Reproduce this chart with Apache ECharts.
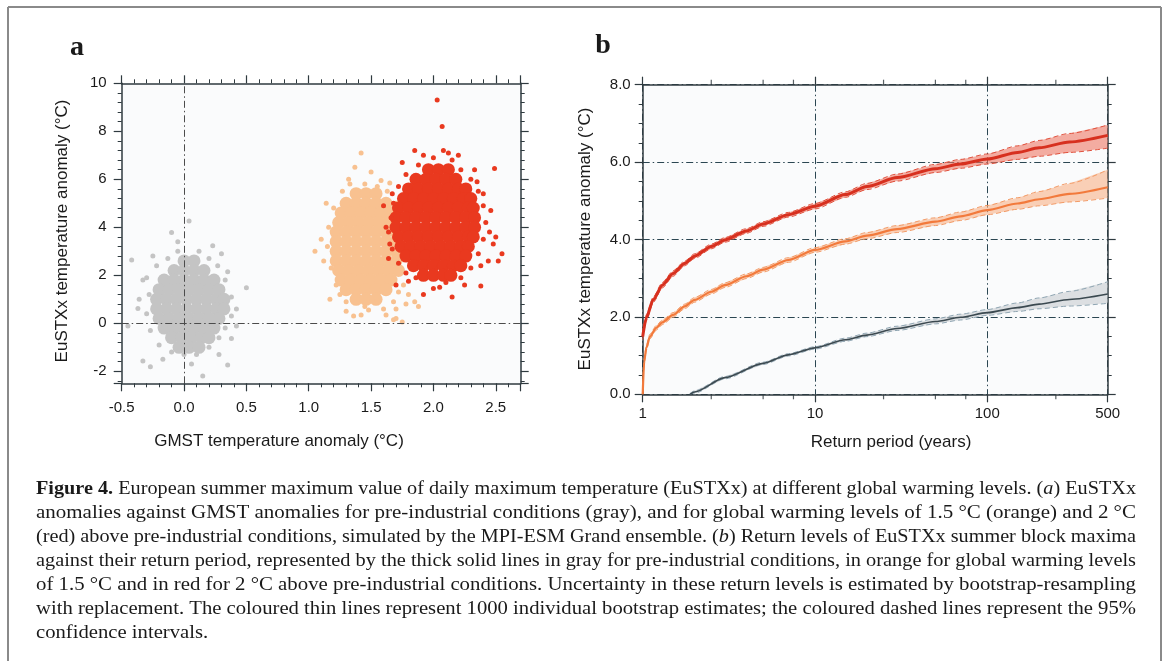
<!DOCTYPE html>
<html>
<head>
<meta charset="utf-8">
<title>Figure 4 - EuSTXx</title>
<script src="https://cdn.jsdelivr.net/npm/echarts@6/dist/echarts.min.js"></script>
<style>
  html, body { margin: 0; padding: 0; background: #fff; }
  #chart { width: 1167px; height: 661px; }
</style>
</head>
<body>
<div id="chart"></div>
<script>
'use strict'

// panel a: GMST anomaly vs EuSTXx anomaly, dense core + loose points per cloud
var grayDense = [
  [0.0, 2.6], [0.08, 2.6],
  [-0.08, 2.2], [0.0, 2.2], [0.08, 2.2], [0.16, 2.2],
  [-0.16, 1.8], [-0.08, 1.8], [0.0, 1.8], [0.08, 1.8], [0.16, 1.8], [0.24, 1.8],
  [-0.2, 1.4], [-0.12, 1.4], [-0.04, 1.4], [0.04, 1.4], [0.12, 1.4], [0.2, 1.4], [0.28, 1.4],
  [-0.22, 1.0], [-0.14, 1.0], [-0.06, 1.0], [0.02, 1.0], [0.1, 1.0], [0.18, 1.0], [0.26, 1.0], [0.32, 1.0],
  [-0.22, 0.6], [-0.14, 0.6], [-0.06, 0.6], [0.02, 0.6], [0.1, 0.6], [0.18, 0.6], [0.26, 0.6], [0.32, 0.6],
  [-0.2, 0.2], [-0.12, 0.2], [-0.04, 0.2], [0.04, 0.2], [0.12, 0.2], [0.2, 0.2], [0.28, 0.2],
  [-0.16, -0.2], [-0.08, -0.2], [0.0, -0.2], [0.08, -0.2], [0.16, -0.2], [0.24, -0.2],
  [-0.1, -0.6], [-0.02, -0.6], [0.06, -0.6], [0.14, -0.6], [0.2, -0.6],
  [-0.04, -1.0], [0.04, -1.0], [0.12, -1.0]
]
var grayLoose = [
  [-0.3, 1.9], [-0.28, 1.2], [-0.3, 0.4], [-0.27, -0.3], [-0.2, -0.9], [-0.1, -1.2], [0.0, -1.3],
  [0.1, -1.3], [0.2, -1.0], [0.28, -0.6], [0.33, -0.2], [0.38, 0.3], [0.38, 1.1], [0.33, 1.8],
  [0.27, 2.4], [0.2, 2.7], [0.12, 3.0], [-0.05, 3.0], [-0.13, 2.7], [-0.22, 2.4], [-0.25, 2.8],
  [0.3, 2.9], [-0.36, 1.0], [0.42, 0.6],
  [-0.42, 2.64], [-0.1, 3.78], [0.04, 4.26], [0.23, 3.23], [0.5, 1.48], [-0.33, -1.57], [-0.27, -1.81],
  [0.15, -2.2], [0.35, -1.74], [-0.45, -0.11], [0.42, -0.11], [0.38, -0.63], [0.35, 2.15],
  [-0.37, 0.62], [-0.33, 1.8], [-0.17, -1.5], [0.28, -1.3], [0.06, -1.7], [-0.05, 3.4]
]
var orangeDense = [
  [1.38, 5.4], [1.46, 5.4], [1.54, 5.4],
  [1.3, 5.0], [1.38, 5.0], [1.46, 5.0], [1.54, 5.0], [1.62, 5.0],
  [1.26, 4.6], [1.34, 4.6], [1.42, 4.6], [1.5, 4.6], [1.58, 4.6], [1.66, 4.6],
  [1.24, 4.2], [1.32, 4.2], [1.4, 4.2], [1.48, 4.2], [1.56, 4.2], [1.64, 4.2],
  [1.22, 3.8], [1.3, 3.8], [1.38, 3.8], [1.46, 3.8], [1.54, 3.8], [1.62, 3.8], [1.7, 3.8],
  [1.22, 3.4], [1.3, 3.4], [1.38, 3.4], [1.46, 3.4], [1.54, 3.4], [1.62, 3.4], [1.7, 3.4],
  [1.22, 3.0], [1.3, 3.0], [1.38, 3.0], [1.46, 3.0], [1.54, 3.0], [1.62, 3.0], [1.7, 3.0],
  [1.22, 2.6], [1.3, 2.6], [1.38, 2.6], [1.46, 2.6], [1.54, 2.6], [1.62, 2.6], [1.7, 2.6],
  [1.24, 2.2], [1.32, 2.2], [1.4, 2.2], [1.48, 2.2], [1.56, 2.2], [1.64, 2.2], [1.72, 2.2],
  [1.26, 1.8], [1.34, 1.8], [1.42, 1.8], [1.5, 1.8], [1.58, 1.8], [1.66, 1.8],
  [1.3, 1.4], [1.38, 1.4], [1.46, 1.4], [1.54, 1.4], [1.62, 1.4],
  [1.38, 1.0], [1.46, 1.0], [1.54, 1.0]
]
var orangeLoose = [
  [1.15, 3.2], [1.16, 4.0], [1.18, 2.3], [1.2, 4.8], [1.22, 1.6], [1.27, 5.5], [1.33, 5.8],
  [1.45, 5.8], [1.55, 5.7], [1.63, 5.5], [1.7, 5.0], [1.72, 1.3], [1.68, 0.9], [1.6, 0.6],
  [1.45, 0.7], [1.3, 0.9], [1.25, 1.2], [1.76, 1.6], [1.8, 1.2], [1.78, 0.8],
  [1.05, 3.0], [1.1, 3.5], [1.14, 5.0], [1.17, 1.0], [1.32, 6.0], [1.37, 6.5], [1.42, 7.1],
  [1.58, 5.95], [1.65, 5.85], [1.3, 0.5], [1.42, 0.35], [1.62, 0.35], [1.7, 0.2], [1.75, 0.05],
  [1.12, 2.6], [1.5, 6.3], [1.48, 0.55], [1.7, 0.6], [1.55, 0.95], [1.36, 0.3], [1.85, 0.9],
  [1.88, 0.7], [1.68, 0.15]
]
var redDense = [
  [1.96, 6.4], [2.04, 6.4], [2.12, 6.4],
  [1.86, 6.0], [1.94, 6.0], [2.02, 6.0], [2.1, 6.0], [2.18, 6.0],
  [1.8, 5.6], [1.88, 5.6], [1.96, 5.6], [2.04, 5.6], [2.12, 5.6], [2.2, 5.6], [2.26, 5.6],
  [1.76, 5.2], [1.84, 5.2], [1.92, 5.2], [2.0, 5.2], [2.08, 5.2], [2.16, 5.2], [2.24, 5.2], [2.3, 5.2],
  [1.72, 4.8], [1.8, 4.8], [1.88, 4.8], [1.96, 4.8], [2.04, 4.8], [2.12, 4.8], [2.2, 4.8], [2.28, 4.8], [2.32, 4.8],
  [1.7, 4.4], [1.78, 4.4], [1.86, 4.4], [1.94, 4.4], [2.02, 4.4], [2.1, 4.4], [2.18, 4.4], [2.26, 4.4], [2.33, 4.4],
  [1.7, 4.0], [1.78, 4.0], [1.86, 4.0], [1.94, 4.0], [2.02, 4.0], [2.1, 4.0], [2.18, 4.0], [2.26, 4.0], [2.33, 4.0],
  [1.72, 3.6], [1.8, 3.6], [1.88, 3.6], [1.96, 3.6], [2.04, 3.6], [2.12, 3.6], [2.2, 3.6], [2.28, 3.6], [2.32, 3.6],
  [1.74, 3.2], [1.82, 3.2], [1.9, 3.2], [1.98, 3.2], [2.06, 3.2], [2.14, 3.2], [2.22, 3.2], [2.28, 3.2],
  [1.78, 2.8], [1.86, 2.8], [1.94, 2.8], [2.02, 2.8], [2.1, 2.8], [2.18, 2.8], [2.26, 2.8],
  [1.84, 2.4], [1.92, 2.4], [2.0, 2.4], [2.08, 2.4], [2.16, 2.4], [2.22, 2.4],
  [1.92, 2.0], [2.0, 2.0], [2.08, 2.0], [2.14, 2.0]
]
var redLoose = [
  [1.68, 5.0], [1.66, 4.4], [1.64, 3.8], [1.67, 3.1], [1.72, 2.5], [1.78, 2.1], [1.86, 1.9],
  [2.1, 1.7], [2.22, 1.9], [2.3, 2.3], [2.36, 2.9], [2.4, 3.5], [2.42, 4.2], [2.4, 4.9],
  [2.36, 5.5], [2.3, 6.0], [2.22, 6.4], [2.15, 6.8], [2.0, 6.9], [1.88, 6.6], [1.78, 6.2],
  [1.72, 5.7], [2.45, 3.8], [2.38, 2.4], [2.05, 1.5],
  [2.03, 9.3], [2.07, 8.2], [1.85, 7.2], [2.08, 7.2], [2.49, 6.45], [2.5, 3.6], [2.55, 2.9],
  [2.38, 1.55], [2.15, 1.1], [1.92, 1.2], [1.7, 1.6], [1.6, 4.9], [1.62, 4.0], [1.65, 3.3],
  [2.4, 5.4], [2.46, 4.7], [2.35, 5.9], [1.75, 6.7], [2.2, 7.0], [2.44, 2.6], [2.0, 1.45],
  [2.25, 1.6], [1.8, 1.75], [1.67, 5.4], [2.48, 3.3], [2.12, 7.1], [1.92, 7.0], [2.33, 6.4],
  [1.64, 2.7], [2.52, 2.6]
]

// panel b: return levels (years, degC) with 95% bounds
var redPeriods = [1, 1.05, 1.15, 1.3, 1.5, 1.75, 2, 2.5, 3, 4, 5, 7, 10, 15, 20, 30, 50, 70, 100, 150, 200, 300, 500]
var redLevel = [1.49, 1.98, 2.44, 2.82, 3.12, 3.38, 3.57, 3.82, 3.99, 4.22, 4.40, 4.64, 4.86, 5.16, 5.37, 5.60, 5.83, 5.95, 6.08, 6.25, 6.37, 6.52, 6.69]
var redLower = [1.41, 1.90, 2.37, 2.75, 3.05, 3.32, 3.51, 3.76, 3.93, 4.16, 4.34, 4.58, 4.79, 5.09, 5.29, 5.51, 5.73, 5.84, 5.95, 6.07, 6.15, 6.25, 6.36]
var redUpper = [1.57, 2.06, 2.51, 2.89, 3.19, 3.44, 3.63, 3.88, 4.05, 4.28, 4.46, 4.70, 4.93, 5.23, 5.45, 5.69, 5.94, 6.07, 6.21, 6.42, 6.56, 6.74, 6.96]

var orangePeriods = [1, 1.02, 1.05, 1.1, 1.2, 1.3, 1.5, 1.75, 2, 2.5, 3, 4, 5, 7, 10, 15, 20, 30, 50, 70, 100, 150, 200, 300, 500]
var orangeLevel = [0, 0.85, 1.2, 1.49, 1.72, 1.86, 2.05, 2.27, 2.44, 2.65, 2.82, 3.05, 3.22, 3.47, 3.73, 3.95, 4.10, 4.27, 4.46, 4.60, 4.76, 4.93, 5.04, 5.18, 5.35]
var orangeLower = [0, 0.78, 1.13, 1.43, 1.66, 1.80, 1.99, 2.21, 2.38, 2.59, 2.76, 2.99, 3.16, 3.41, 3.67, 3.88, 4.02, 4.18, 4.36, 4.49, 4.64, 4.78, 4.87, 4.97, 5.07]
var orangeUpper = [0.06, 0.92, 1.27, 1.55, 1.78, 1.92, 2.11, 2.33, 2.50, 2.71, 2.88, 3.11, 3.28, 3.53, 3.79, 4.02, 4.18, 4.36, 4.56, 4.71, 4.88, 5.08, 5.24, 5.45, 5.80]

var grayPeriods = [1.88, 2, 3, 5, 7, 10, 15, 20, 30, 50, 70, 100, 150, 200, 300, 500]
var grayLevel = [0, 0.06, 0.43, 0.80, 1.02, 1.20, 1.41, 1.53, 1.70, 1.88, 1.99, 2.11, 2.24, 2.33, 2.45, 2.59]
var grayLower = [0, 0.03, 0.40, 0.77, 0.99, 1.17, 1.37, 1.49, 1.65, 1.82, 1.92, 2.04, 2.14, 2.21, 2.28, 2.35]
var grayUpper = [0.02, 0.09, 0.46, 0.83, 1.05, 1.23, 1.45, 1.58, 1.76, 1.95, 2.07, 2.19, 2.36, 2.49, 2.66, 2.91]

var logMinorTicks = [2.5, 5, 7.5, 25, 50, 75, 250]

var captionLines = [
  '{b|Figure 4.} European summer maximum value of daily maximum temperature (EuSTXx) at different global warming levels. ({i|a}) EuSTXx',
  'anomalies against GMST anomalies for pre-industrial conditions (gray), and for global warming levels of 1.5 °C (orange) and 2 °C',
  '(red) above pre-industrial conditions, simulated by the MPI-ESM Grand ensemble. ({i|b}) Return levels of EuSTXx summer block maxima',
  'against their return period, represented by the thick solid lines in gray for pre-industrial conditions, in orange for global warming levels',
  'of 1.5 °C and in red for 2 °C above pre-industrial conditions. Uncertainty in these return levels is estimated by bootstrap-resampling',
  'with replacement. The coloured thin lines represent 1000 individual bootstrap estimates; the coloured dashed lines represent the 95%',
  'confidence intervals.'
]

var SANS = '"Liberation Sans", Arial, sans-serif'
var SERIF = '"Liberation Serif", "Times New Roman", serif'
var AXIS = '#2f3a3f'
var DASHDOT = [7, 3, 1.5, 3]

function pairs (xs, ys) {
  return xs.map(function (x, i) { return [x, ys[i]] })
}

// caption: measure each line and stretch it to the justified width
var measureCtx = document.createElement('canvas').getContext('2d')
var CAPTION_SIZE = 19
var CAPTION_WIDTH = 1100
function measureLine (line) {
  var total = 0
  line.replace(/\{(\w)\|([^}]*)\}|([^{]+)/g, function (m, tag, inner, plain) {
    if (tag) {
      measureCtx.font = (tag === 'b' ? 'bold ' : 'italic ') + CAPTION_SIZE + 'px ' + SERIF
      total += measureCtx.measureText(inner).width
    } else {
      measureCtx.font = CAPTION_SIZE + 'px ' + SERIF
      total += measureCtx.measureText(plain).width
    }
    return m
  })
  return total
}

function captionGraphics () {
  var lastScale = 1
  return captionLines.map(function (line, i) {
    var w = measureLine(line)
    var s = i < captionLines.length - 1 ? CAPTION_WIDTH / w : lastScale
    lastScale = s
    return {
      type: 'text',
      x: 36,
      y: 489 + i * 24,
      scaleX: s,
      silent: true,
      style: {
        text: line,
        fontFamily: SERIF,
        fontSize: CAPTION_SIZE,
        fill: '#1a1a1a',
        verticalAlign: 'middle',
        rich: {
          b: { fontFamily: SERIF, fontSize: CAPTION_SIZE, fontWeight: 'bold', fill: '#1a1a1a' },
          i: { fontFamily: SERIF, fontSize: CAPTION_SIZE, fontStyle: 'italic', fill: '#1a1a1a' }
        }
      }
    }
  })
}

function label (text, x, y, opts) {
  opts = opts || {}
  return {
    type: 'text',
    x: x,
    y: y,
    rotation: opts.rotation || 0,
    silent: true,
    style: {
      text: text,
      fontFamily: opts.family || SANS,
      fontSize: opts.size || 17,
      fontWeight: opts.weight || 'normal',
      fill: '#1a1a1a',
      align: 'center',
      verticalAlign: 'middle'
    }
  }
}

function axisBase (extra) {
  var base = {
    axisLine: { show: true, onZero: false, lineStyle: { color: AXIS, width: 1.5 } },
    axisTick: { show: true, inside: false, length: 8, lineStyle: { color: AXIS, width: 1.2 } },
    minorTick: { show: true, length: 4, lineStyle: { color: AXIS, width: 1 } },
    splitLine: { show: false },
    axisLabel: { show: false, fontFamily: SANS, fontSize: 15, color: '#1a1a1a' }
  }
  return Object.assign(base, extra)
}

// shaded 95% band as one polygon placed through the axes
function bandSeries (xs, lo, hi, fill) {
  return {
    type: 'custom',
    xAxisIndex: 2,
    yAxisIndex: 2,
    data: xs.map(function (x, i) { return [x, lo[i], hi[i]] }),
    encode: { x: 0, y: [1, 2] },
    clip: true,
    silent: true,
    z: 2,
    renderItem: function (params, api) {
      if (params.dataIndex !== 0) return null
      var top = xs.map(function (x, i) { return api.coord([x, hi[i]]) })
      var bottom = xs.map(function (x, i) { return api.coord([x, lo[i]]) }).reverse()
      return {
        type: 'polygon',
        shape: { points: top.concat(bottom) },
        style: { fill: fill }
      }
    }
  }
}

function lineSeries (xs, ys, color, width, dashed, z) {
  return {
    type: 'line',
    xAxisIndex: 2,
    yAxisIndex: 2,
    data: pairs(xs, ys),
    smooth: 0.25,
    smoothMonotone: 'x',
    symbol: 'none',
    silent: true,
    z: z,
    lineStyle: { color: color, width: width, type: dashed ? [5, 3] : 'solid' }
  }
}

function tickSeries (y, offset) {
  return {
    type: 'scatter',
    xAxisIndex: 2,
    yAxisIndex: 2,
    data: logMinorTicks.map(function (p) { return [p, y] }),
    symbol: 'rect',
    symbolSize: [1.2, 5],
    symbolOffset: [0, offset],
    clip: false,
    silent: true,
    z: 6,
    itemStyle: { color: AXIS }
  }
}

function scatterSeries (data, color, size) {
  return {
    type: 'scatter',
    xAxisIndex: 0,
    yAxisIndex: 0,
    data: data,
    symbolSize: size,
    silent: true,
    itemStyle: { color: color, opacity: 1 }
  }
}

var chart = echarts.init(document.getElementById('chart'), null, { renderer: 'canvas' })

var zeroLines = scatterSeries(redLoose, '#e9391f', 5)
zeroLines.markLine = {
  silent: true,
  symbol: 'none',
  animation: false,
  label: { show: false },
  lineStyle: { color: '#4b4b4b', width: 1, type: DASHDOT },
  data: [{ xAxis: 0 }, { yAxis: 0 }]
}

var halfStep = function (v) {
  return Math.abs(v * 2 - Math.round(v * 2)) < 1e-6 ? v.toFixed(1) : ''
}

chart.setOption({
  animation: false,
  backgroundColor: '#ffffff',
  grid: [
    { left: 121.7, top: 83.3, width: 399, height: 300, show: true, backgroundColor: '#fafbfc', borderWidth: 0 },
    { left: 642.7, top: 84.7, width: 465, height: 309.6, show: true, backgroundColor: '#fafbfc', borderWidth: 0 }
  ],
  xAxis: [
    axisBase({
      type: 'value', gridIndex: 0, position: 'bottom', min: -0.5, max: 2.7, interval: 0.5,
      minorTick: { show: true, splitNumber: 5, length: 4, lineStyle: { color: AXIS, width: 1 } },
      axisLabel: { show: true, margin: 17, fontFamily: SANS, fontSize: 15, color: '#1a1a1a', formatter: halfStep }
    }),
    axisBase({
      type: 'value', gridIndex: 0, position: 'top', min: -0.5, max: 2.7, interval: 0.5,
      minorTick: { show: true, splitNumber: 5, length: 4, lineStyle: { color: AXIS, width: 1 } }
    }),
    axisBase({
      type: 'log', logBase: 10, gridIndex: 1, position: 'bottom', min: 1, max: 500,
      minorTick: { show: false },
      splitLine: { show: true, lineStyle: { color: '#2b4652', width: 1, type: DASHDOT } },
      axisLabel: { show: true, margin: 12, fontFamily: SANS, fontSize: 15, color: '#1a1a1a', showMaxLabel: true, showMinLabel: true }
    }),
    axisBase({
      type: 'log', logBase: 10, gridIndex: 1, position: 'top', min: 1, max: 500,
      minorTick: { show: false }
    })
  ],
  yAxis: [
    axisBase({
      type: 'value', gridIndex: 0, position: 'left', min: -2.5, max: 10, splitNumber: 6,
      minorTick: { show: true, splitNumber: 5, length: 4, lineStyle: { color: AXIS, width: 1 } },
      axisLabel: {
        show: true, margin: 15, fontFamily: SANS, fontSize: 15, color: '#1a1a1a',
        formatter: function (v) { return Math.abs(v % 2) < 1e-6 ? String(v) : '' }
      }
    }),
    axisBase({
      type: 'value', gridIndex: 0, position: 'right', min: -2.5, max: 10, splitNumber: 6,
      minorTick: { show: true, splitNumber: 5, length: 4, lineStyle: { color: AXIS, width: 1 } }
    }),
    axisBase({
      type: 'value', gridIndex: 1, position: 'left', min: 0, max: 8, interval: 2,
      minorTick: { show: true, splitNumber: 4, length: 4, lineStyle: { color: AXIS, width: 1 } },
      splitLine: { show: true, lineStyle: { color: '#2b4652', width: 1, type: DASHDOT } },
      axisLabel: {
        show: true, margin: 12, fontFamily: SANS, fontSize: 15, color: '#1a1a1a',
        formatter: function (v) { return v.toFixed(1) }
      }
    }),
    axisBase({
      type: 'value', gridIndex: 1, position: 'right', min: 0, max: 8, interval: 2,
      minorTick: { show: true, splitNumber: 4, length: 4, lineStyle: { color: AXIS, width: 1 } }
    })
  ],
  series: [
    scatterSeries(grayDense, '#c4c4c4', 13),
    scatterSeries(grayLoose, '#c4c4c4', 5),
    scatterSeries(orangeDense, '#f8c190', 13),
    scatterSeries(orangeLoose, '#f8c190', 5),
    scatterSeries(redDense, '#e9391f', 13),
    zeroLines,
    bandSeries(grayPeriods, grayLower, grayUpper, 'rgba(200,205,208,0.6)'),
    bandSeries(orangePeriods, orangeLower, orangeUpper, 'rgba(248,178,135,0.6)'),
    bandSeries(redPeriods, redLower, redUpper, 'rgba(238,120,100,0.6)'),
    lineSeries(grayPeriods, grayLower, '#8fa5b2', 1, true, 3),
    lineSeries(grayPeriods, grayUpper, '#8fa5b2', 1, true, 3),
    lineSeries(orangePeriods, orangeLower, '#f29a66', 1, true, 3),
    lineSeries(orangePeriods, orangeUpper, '#f29a66', 1, true, 3),
    lineSeries(redPeriods, redLower, '#e0503c', 1, true, 3),
    lineSeries(redPeriods, redUpper, '#e0503c', 1, true, 3),
    lineSeries(grayPeriods, grayLevel, '#3b4950', 1.6, false, 4),
    lineSeries(orangePeriods, orangeLevel, '#f27a3c', 2.2, false, 4),
    lineSeries(redPeriods, redLevel, '#d7301f', 3, false, 4),
    tickSeries(0, 2.5),
    tickSeries(8, -2.5)
  ],
  graphic: [
    { type: 'line', silent: true, shape: { x1: 8, y1: 7, x2: 1161, y2: 7 }, style: { stroke: '#8a8a8a', lineWidth: 2 } },
    { type: 'line', silent: true, shape: { x1: 8, y1: 7, x2: 8, y2: 661 }, style: { stroke: '#8a8a8a', lineWidth: 2 } },
    { type: 'line', silent: true, shape: { x1: 1161, y1: 7, x2: 1161, y2: 661 }, style: { stroke: '#8a8a8a', lineWidth: 2 } },
    label('a', 77, 48, { family: SERIF, size: 28, weight: 'bold' }),
    label('b', 603, 46, { family: SERIF, size: 28, weight: 'bold' }),
    label('EuSTXx temperature anomaly (°C)', 62, 231, { rotation: Math.PI / 2 }),
    label('GMST temperature anomaly (°C)', 279, 441),
    label('EuSTXx temperature anomaly (°C)', 585, 239, { rotation: Math.PI / 2 }),
    label('Return period (years)', 891, 442)
  ].concat(captionGraphics())
})
</script>
</body>
</html>
